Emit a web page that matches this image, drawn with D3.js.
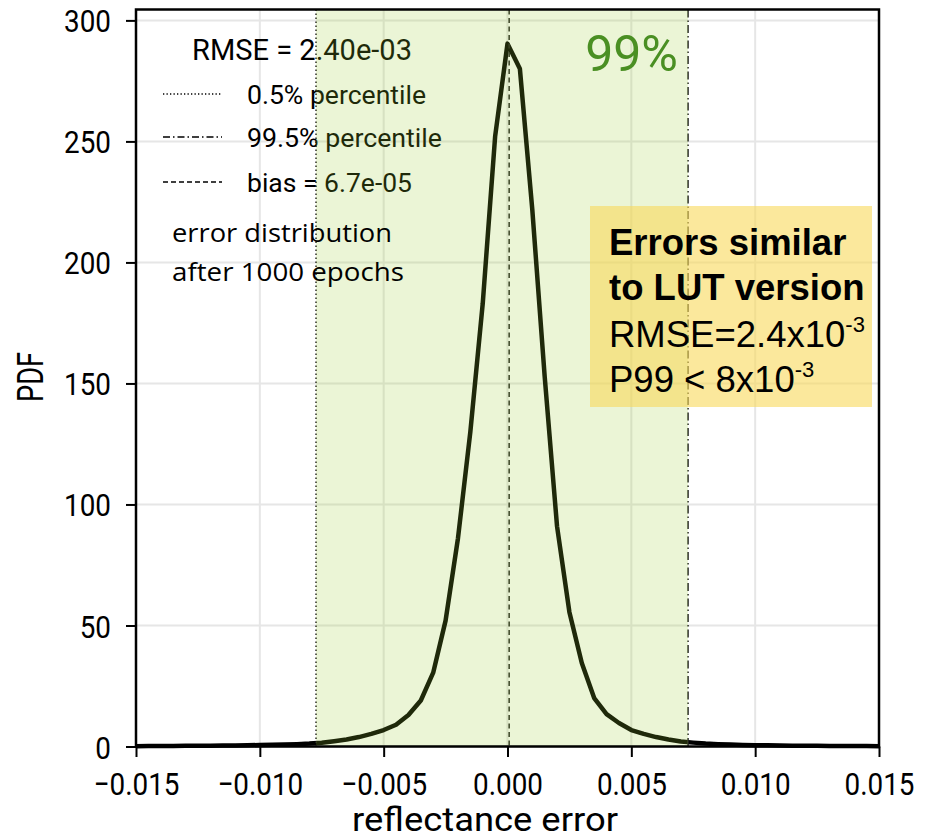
<!DOCTYPE html>
<html>
<head>
<meta charset="utf-8">
<script src="https://cdn.jsdelivr.net/npm/d3@7"></script>
<style>
  body { margin: 0; background: #fff; }
  svg { display: block; }
</style>
</head>
<body>
<div id="chart"></div>
<script>
// error values sampled every 0.0005
const xValues = [
  -0.0150, -0.0145, -0.0140, -0.0135, -0.0130, -0.0125, -0.0120, -0.0115, -0.0110, -0.0105,
  -0.0100, -0.0095, -0.0090, -0.0085, -0.0080, -0.0075, -0.0070, -0.0065, -0.0060, -0.0055,
  -0.0050, -0.0045, -0.0040, -0.0035, -0.0030, -0.0025, -0.0020, -0.0015, -0.0010, -0.0005,
   0.0000,
   0.0005,  0.0010,  0.0015,  0.0020,  0.0025,  0.0030,  0.0035,  0.0040,  0.0045,  0.0050,
   0.0055,  0.0060,  0.0065,  0.0070,  0.0075,  0.0080,  0.0085,  0.0090,  0.0095,  0.0100,
   0.0105,  0.0110,  0.0115,  0.0120,  0.0125,  0.0130,  0.0135,  0.0140,  0.0145,  0.0150
];
const pdfValues = [
  0.15, 0.18, 0.2, 0.23, 0.26, 0.3, 0.34, 0.39, 0.45, 0.52,
  0.6, 0.7, 0.82, 0.98, 1.2, 1.55, 2.2, 2.9, 3.9, 5.2,
  6.8, 9.0, 13.0, 19.0, 30.5, 52.0, 86.0, 130.0, 183.0, 252.0,
  290.4,
  280.0, 222.0, 153.0, 91.0, 55.5, 34.5, 20.0, 13.4, 9.7, 6.8,
  5.2, 3.9, 2.9, 2.1, 1.6, 1.2, 0.95, 0.78, 0.65, 0.55,
  0.47, 0.41, 0.36, 0.31, 0.27, 0.24, 0.21, 0.19, 0.17, 0.15
];
const xTicks = [-0.015, -0.010, -0.005, 0, 0.005, 0.010, 0.015];
const yTicks = [0, 50, 100, 150, 200, 250, 300];
const p005 = -0.00773, p995 = 0.00729, bias = 6.7e-5;

const legendTitle = 'RMSE = 2.40e-03';
const legendLabels = ['0.5% percentile', '99.5% percentile', 'bias = 6.7e-05'];
const noteLines = ['error distribution', 'after 1000 epochs'];
const spanLabel = '99%';
const boxBold = ['Errors similar', 'to LUT version'];
const boxPlain = [['RMSE=2.4x10', '-3'], ['P99 < 8x10', '-3']];

const W = 932, H = 838;
const pLeft = 136, pRight = 879, pTop = 9.5, pBottom = 746.5;
const condensed = 'Roboto, sans-serif';

const svg = d3.select('#chart').append('svg')
  .attr('width', W)
  .attr('height', H);

const x = d3.scaleLinear().domain([-0.015, 0.015]).range([pLeft, pRight]);
const y = d3.scaleLinear().domain([0, 304.5]).range([pBottom, pTop]);

// squeeze text to look like a condensed face
function squeeze(sel, k) {
  sel.each(function() {
    const w = this.getComputedTextLength();
    this.setAttribute('textLength', w * k);
    this.setAttribute('lengthAdjust', 'spacingAndGlyphs');
  });
}
function fit(sel, w) {
  sel.attr('textLength', w).attr('lengthAdjust', 'spacingAndGlyphs');
}

// grid
svg.append('g')
   .selectAll('line')
   .data(xTicks)
   .enter().append('line')
   .attr('x1', d => x(d)).attr('x2', d => x(d))
   .attr('y1', pTop).attr('y2', pBottom)
   .style('stroke', '#e6e6e6').style('stroke-width', 2);
svg.append('g')
   .selectAll('line')
   .data(yTicks)
   .enter().append('line')
   .attr('x1', pLeft).attr('x2', pRight)
   .attr('y1', d => y(d)).attr('y2', d => y(d))
   .style('stroke', '#e6e6e6').style('stroke-width', 2);

// curve
const pts = xValues.map((v, i) => [v, pdfValues[i]]);
svg.append('path')
   .datum(pts)
   .attr('d', d3.line().x(d => x(d[0])).y(d => y(d[1])))
   .style('fill', 'none')
   .style('stroke', '#000')
   .style('stroke-width', 4.5)
   .style('stroke-linejoin', 'round');

// percentile / bias lines
const vlines = [
  { v: p005, dash: '1.5,2.5' },
  { v: p995, dash: '8,3,1.5,3' },
  { v: bias, dash: '5,3.5' }
];
svg.append('g').selectAll('line')
   .data(vlines)
   .enter().append('line')
   .attr('x1', d => x(d.v)).attr('x2', d => x(d.v))
   .attr('y1', pTop).attr('y2', pBottom)
   .style('stroke', '#222')
   .style('stroke-width', 1.5)
   .style('stroke-dasharray', d => d.dash);

// legend
const lg = svg.append('g');
lg.append('text')
  .attr('x', 192).attr('y', 60)
  .style('font-family', condensed).style('font-size', '30px')
  .text(legendTitle)
  .call(fit, 220);

const legendDash = ['1.3,2.2', '7,3,1.5,3', '5,3'];
const legendY = [94, 137, 182];
const legendW = [179, 195, 165];
legendLabels.forEach((lab, i) => {
  lg.append('line')
    .attr('x1', 163).attr('x2', 222)
    .attr('y1', legendY[i]).attr('y2', legendY[i])
    .style('stroke', '#000').style('stroke-width', 1.3)
    .style('stroke-dasharray', legendDash[i]);
  lg.append('text')
    .attr('x', 247).attr('y', legendY[i] + 9.5)
    .style('font-family', condensed).style('font-size', '26px')
    .text(lab)
    .call(fit, legendW[i]);
});

// shaded 99% span on top (tints everything beneath)
svg.append('rect')
   .attr('x', x(p005))
   .attr('y', pTop)
   .attr('width', x(p995) - x(p005))
   .attr('height', pBottom - pTop)
   .style('fill', '#9acd32')
   .style('opacity', 0.2);

svg.append('text')
   .attr('x', 678).attr('y', 70.5)
   .attr('text-anchor', 'end')
   .style('font-family', 'Roboto, sans-serif')
   .style('font-size', '50px')
   .style('fill', '#4a8f23')
   .text(spanLabel);

// axes
const xAxis = svg.append('g')
  .attr('transform', `translate(0, ${pBottom})`)
  .call(d3.axisBottom(x).tickValues(xTicks).tickFormat(d3.format('.3f')).tickSize(10.5).tickPadding(15));
const yAxis = svg.append('g')
  .attr('transform', `translate(${pLeft}, 0)`)
  .call(d3.axisLeft(y).tickValues(yTicks).tickSize(10).tickPadding(15));

[xAxis, yAxis].forEach(a => {
  a.select('.domain').remove();
  a.selectAll('.tick line').style('stroke', '#000').style('stroke-width', 2);
  a.selectAll('.tick text')
   .style('font-family', condensed)
   .style('font-size', '32px')
   .style('fill', '#000')
   .call(squeeze, 0.87);
});
yAxis.selectAll('.tick text').attr('dy', '0.36em');

svg.append('rect')
   .attr('x', pLeft).attr('y', pTop)
   .attr('width', pRight - pLeft).attr('height', pBottom - pTop)
   .style('fill', 'none')
   .style('stroke', '#000')
   .style('stroke-width', 2.5);

// axis labels
svg.append('text')
   .attr('transform', 'translate(43, 377) rotate(-90)')
   .attr('text-anchor', 'middle')
   .style('font-family', condensed).style('font-size', '36px')
   .text('PDF')
   .call(fit, 50);
svg.append('text')
   .attr('x', 485).attr('y', 831)
   .attr('text-anchor', 'middle')
   .style('font-family', condensed).style('font-size', '33px')
   .text('reflectance error')
   .call(fit, 266);

// note
const noteW = [220, 232];
noteLines.forEach((t, i) => {
  svg.append('text')
     .attr('x', 172).attr('y', 242 + i * 39)
     .style('font-family', '"Open Sans", sans-serif')
     .style('font-size', '25px')
     .text(t)
     .call(fit, noteW[i]);
});

// yellow call-out box
svg.append('rect')
   .attr('x', 590).attr('y', 206)
   .attr('width', 282).attr('height', 201)
   .style('fill', '#f9d85a')
   .style('opacity', 0.6);

boxBold.forEach((t, i) => {
  svg.append('text')
     .attr('x', 609).attr('y', 255 + i * 45)
     .style('font-family', '"Liberation Sans", Arial, sans-serif')
     .style('font-size', '36.5px')
     .style('font-weight', 'bold')
     .text(t);
});
boxPlain.forEach((t, i) => {
  const tx = svg.append('text')
     .attr('x', 609).attr('y', 346.5 + i * 45)
     .style('font-family', '"Liberation Sans", Arial, sans-serif')
     .style('font-size', '36.5px');
  tx.append('tspan').text(t[0]);
  tx.append('tspan')
    .attr('dy', -15)
    .style('font-size', '22px')
    .text(t[1]);
});
</script>
</body>
</html>
